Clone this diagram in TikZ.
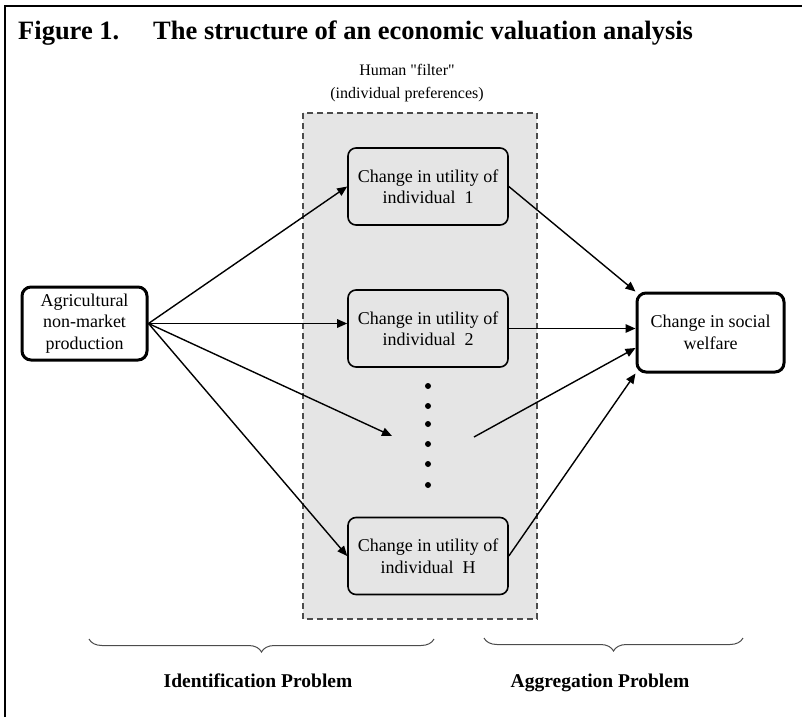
\documentclass[tikz,border=0pt]{standalone}
\usepackage{fontspec}
\setmainfont{Liberation Serif}[Ligatures=TeXOff]
\usetikzlibrary{arrows.meta}
\usetikzlibrary{decorations.pathreplacing}
\usetikzlibrary{calc}

\begin{document}
\begin{tikzpicture}[x=1pt,y=-1pt,
	txt/.style={font=\fontsize{18}{21.5}\selectfont, align=center},
	indbox/.style={txt, draw, line width=1.6pt, rounded corners=8pt, fill=gray!20,
		minimum width=160pt, minimum height=77pt, inner sep=0pt},
	endbox/.style={txt, draw, line width=3pt, rounded corners=9pt, fill=white, inner sep=0pt},
	arr/.style={line width=1.4pt, -{Triangle[length=10pt,width=8.5pt]}},
	lbl/.style={font=\bfseries\fontsize{19.5}{22}\selectfont, inner sep=0pt},
	ttl/.style={font=\bfseries\fontsize{26.5}{30}\selectfont, inner sep=0pt, anchor=base west},
	brc/.style={decorate, decoration={brace, mirror, amplitude=13pt}, line width=1pt, black!70}]
	\useasboundingbox (0,0) rectangle (802,717);
	\draw[line width=2pt] (5,717) -- (5,6) -- (802,6);

	\node[ttl] (fig) at (18,40) {Figure 1.};
	\node[ttl] (title) at (153,40) {The structure of an economic valuation analysis};

	% human filter
	\draw[dashed, dash pattern=on 6pt off 4pt, line width=1.2pt, draw=black!70, fill=gray!20]
		(303,113) rectangle (537,619);
	\node[font=\fontsize{16}{23}\selectfont, align=center] (filter) at (407,83)
		{Human "filter"\\(individual preferences)};

	\node[endbox, minimum width=125pt, minimum height=73pt] (agri) at (84.5,323.5)
		{Agricultural\\non-market\\production};
	\node[indbox] (ind1) at (428,186.5) {Change in utility of\\individual\ \ 1};
	\node[indbox] (ind2) at (428,328.5) {Change in utility of\\individual\ \ 2};
	\node[indbox] (indH) at (428,556) {Change in utility of\\individual\ \ H};
	\node[endbox, minimum width=147pt, minimum height=79pt] (welfare) at (710.5,332.5)
		{Change in social\\welfare};

	\foreach \y in {386,406,424,444,464,485}
		\fill (428,\y) circle (3pt);
	\coordinate (dotsin) at (392,436);
	\coordinate (dotsout) at (474,437);

	\draw[arr] (agri.east) -- (ind1.west);
	\draw[arr] (agri.east) -- (agri.east -| ind2.west);
	\draw[arr] (agri.east) -- (dotsin);
	\draw[arr] (agri.east) -- (indH.west);

	\draw[arr] (ind1.east) -- (welfare.north west);
	\draw[arr] (ind2.east) -- (ind2.east -| welfare.west);
	\draw[arr] (dotsout) -- ([yshift=-15.5pt]welfare.west);
	\draw[arr] (indH.east) -- (welfare.south west);

	\draw[brc] (89,639) -- (434,639);
	\draw[brc] (484,638) -- (743,638);
	\node[lbl, anchor=base] (ident) at (258,687) {Identification Problem};
	\node[lbl, anchor=base] (aggr) at (600,687) {Aggregation Problem};
\end{tikzpicture}
\end{document}
